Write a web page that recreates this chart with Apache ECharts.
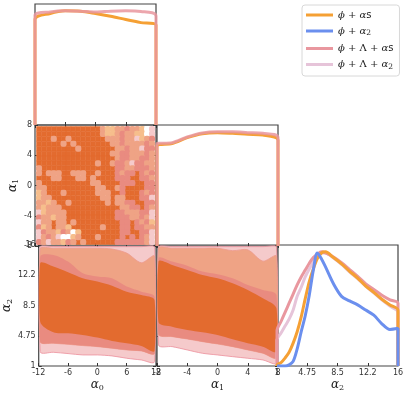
<!DOCTYPE html>
<html>
<head>
<meta charset="utf-8">
<script src="https://cdn.jsdelivr.net/npm/echarts@6/dist/echarts.min.js"></script>
<style>
  html, body { margin: 0; padding: 0; background: #fff; }
  #main { width: 407px; height: 395px; }
</style>
</head>
<body>
<div id="main"></div>
<script>
// model names (legend order) and their line colours
var seriesNames = ['phi+as', 'phi+a2', 'phi+L+as', 'phi+L+a2'];
var legendTexts = ['{i|ϕ} + {i|α}{r|s}', '{i|ϕ} + {i|α}{b|2}', '{i|ϕ} + Λ + {i|α}{r|s}', '{i|ϕ} + Λ + {i|α}{b|2}'];
var lineColors = ['#F5A034', '#6B8FEE', '#E9979F', '#E6C4D9'];

// tick labels
var a0Ticks = [-12, -6, 0, 6, 12];
var a0TickLabels = ['-12', '-6', '0', '6', '12'];
var a1Ticks = [-8, -4, 0, 4, 8];
var a1TickLabels = ['-8', '-4', '0', '4', '8'];
var a2Ticks = [1, 4.75, 8.5, 12.25, 16];
var a2TickLabels = ['1', '4.75', '8.5', '12.2', '16'];

// 1D marginals (normalised to peak 1)
var a0Grid = [-12, -9, -6, -3, 0, 3, 6, 9, 12];
var a0Orange = [0.924, 0.977, 1.0, 0.997, 0.977, 0.953, 0.924, 0.897, 0.874];
var a0Pink = [0.96, 0.99, 1.0, 0.997, 0.99, 0.997, 1.0, 0.995, 0.955];

var a1Grid = [-8, -6, -4, -2, 0, 2, 4, 6, 8];
var a1Orange = [0.877, 0.897, 0.949, 0.984, 0.993, 0.987, 0.978, 0.972, 0.926];
var a1Pink = [0.897, 0.905, 0.955, 0.99, 1.0, 1.0, 0.993, 0.987, 0.95];

var a2Grid = [1, 1.5, 2, 2.5, 3, 3.5, 4, 4.5, 5, 5.5, 6, 6.5, 7, 8, 9, 10, 11, 12, 13, 14, 15, 16];
var a2Orange = [0.01, 0.03, 0.07, 0.12, 0.2, 0.3, 0.43, 0.59, 0.74, 0.85, 0.94, 0.99, 1.0, 0.95, 0.895, 0.83, 0.77, 0.7, 0.645, 0.585, 0.535, 0.49];
var a2Blue = [0, 0, 0, 0.01, 0.04, 0.15, 0.3, 0.44, 0.62, 0.84, 0.99, 0.94, 0.87, 0.72, 0.61, 0.57, 0.535, 0.49, 0.445, 0.37, 0.32, 0.33];
var a2Pink = [0.31, 0.39, 0.47, 0.55, 0.63, 0.71, 0.78, 0.84, 0.9, 0.95, 0.98, 1.0, 0.99, 0.955, 0.905, 0.845, 0.785, 0.72, 0.67, 0.62, 0.58, 0.55];
var a2Lilac = [0.23, 0.29, 0.35, 0.41, 0.49, 0.61, 0.69, 0.78, 0.85, 0.91, 0.965, 0.99, 0.99, 0.945, 0.89, 0.825, 0.765, 0.7, 0.64, 0.58, 0.525, 0.47];

// alpha0 - alpha1 credible regions, one char per cell (top row = alpha1 high)
var levelKeys = 'Dksyp.';
var levelFills = ['#E36B2F', '#E98B80', '#EFA385', '#F6BE8C', '#F5CACB', '#FFFFFF'];
var a0a1Extent = [-11.7, 11.7, -7.8, 7.8];
var a0a1Levels = [
  'DDDDDDDDDDDDDsyysskssy.p',
  'DDDDDDDDDDDDDsyyskssyy.p',
  'DDDsDDsDDDDDDDsssksspysk',
  'DDDDDsDsDDDDDDDsskssssks',
  'DDDDDDDDsDDDDDDDssksspkk',
  'DDDDDDDDDDDDDDDsskksssks',
  'DDDDDDDDDDDDDDDDskksskks',
  'DDDDDDDDDDDDsDDskkspkkss',
  'sDDDDDDDDDDDDDDDkksskkks',
  'sDsssDDsssDDsDDDkskkDksk',
  'DDDssDDDssDsDDDDkkkDDkks',
  'sDDDDDDDDDDssDDDDkkkDDkk',
  'ssDDDDDDDDDDssDDskDDDDkk',
  'ysDDDsDDDDDDsssDDkDDDksk',
  'yssDDDDDDDDDDssDssDDDkkp',
  'ssysDDsDDDDDDDsDsskkDDkk',
  'sysssDDDDDDDDDDDDsskkDks',
  'pyssssDDDDDDDDDDkkssskkp',
  'kssyssDDDDDDDDDDkkkssksp',
  'pssDssDsDDDDDDDDDkkDksky',
  'kysDssyDDDDDDsDDDkkDkkss',
  'pkssyks.yDDDDDDDDkkDDkkp',
  'psksp..ysDDDsDDDDkDkDksp',
  'kspssyksDsDDDDDDkkkkkksp'
];

// alpha0 - alpha2 contour boundaries (alpha2 values along alpha0)
var a0Contour = [-11.7, -9, -6, -3, 0, 3, 6, 9, 11.7];
var a0a2OuterLow = [2.78, 2.70, 2.54, 2.37, 2.37, 2.25, 1.96, 1.75, 1.55];
var a0a2Top = [15.8, 15.8, 15.8, 15.8, 15.8, 15.8, 15.8, 15.8, 15.8];
var a0a2SalmonTop = [15.5, 15.6, 15.6, 15.6, 15.6, 15.5, 15.0, 13.8, 14.6];
var a0a2MidLow = [4.02, 3.82, 3.69, 3.53, 3.40, 3.20, 2.99, 2.87, 2.58];
var a0a2MidTop = [14.55, 14.76, 13.94, 12.49, 12.08, 11.87, 10.84, 10.22, 9.60];
var a0a2CoreLow = [6.50, 5.18, 5.06, 4.85, 4.52, 4.11, 3.82, 3.49, 2.87];
var a0a2CoreTop = [13.73, 13.32, 12.61, 11.87, 11.46, 10.96, 10.22, 9.81, 9.19];

// alpha1 - alpha2 contour boundaries (alpha2 values along alpha1)
var a1Contour = [-7.8, -6, -4, -2, 0, 2, 4, 6, 7.8];
var a1a2OuterLow = [3.61, 3.40, 2.99, 2.58, 2.37, 2.16, 1.96, 1.75, 1.34];
var a1a2Top = [15.8, 15.8, 15.8, 15.8, 15.8, 15.8, 15.8, 15.8, 15.8];
var a1a2SalmonTop = [15.6, 15.6, 15.6, 15.6, 15.6, 15.3, 15.4, 14.0, 14.6];
var a1a2MidLow = [4.93, 4.64, 4.35, 4.02, 3.73, 3.40, 2.99, 2.58, 2.04];
var a1a2MidTop = [14.35, 13.94, 13.44, 12.70, 12.37, 11.87, 11.04, 10.42, 9.80];
var a1a2CoreLow = [6.42, 5.88, 5.47, 5.18, 4.85, 4.31, 3.82, 3.40, 2.78];
var a1a2CoreTop = [13.94, 13.52, 12.90, 12.28, 11.87, 11.25, 10.42, 9.39, 8.15];

var chart = echarts.init(document.getElementById('main'));

var axisDefs = {
  a0: { min: -12, max: 12, interval: 6, ticks: a0Ticks, labels: a0TickLabels, name: '{a|α}{s|0}' },
  a1: { min: -8, max: 8, interval: 4, ticks: a1Ticks, labels: a1TickLabels, name: '{a|α}{s|1}' },
  a2: { min: 1, max: 16, interval: 3.75, ticks: a2Ticks, labels: a2TickLabels, name: '{a|α}{s|2}' }
};
var nameRich = {
  a: { fontFamily: 'DejaVu Serif', fontStyle: 'italic', fontSize: 12, color: '#222' },
  s: { fontFamily: 'DejaVu Serif', fontSize: 8, color: '#222', padding: [6, 0, 0, 0] }
};

// panel layout: [left, top], all 121px square
var boxes = [[35, 4], [35, 125], [35, 245], [157, 125], [157, 245], [277, 245]];
var panels = [
  { x: 'a0', y: null, xLab: false },
  { x: 'a0', y: 'a1', xLab: false, yLab: true },
  { x: 'a0', y: 'a2', xLab: true, yLab: true },
  { x: 'a1', y: null, xLab: false },
  { x: 'a1', y: 'a2', xLab: true, yLab: false },
  { x: 'a2', y: null, xLab: true }
];

function tickFormatter(def) {
  return function (v) {
    for (var i = 0; i < def.ticks.length; i++) {
      if (Math.abs(def.ticks[i] - v) < 1e-6) return def.labels[i];
    }
    return '';
  };
}

function valueAxis(key, gi, pos, showTicks, showLabels, showName, isY) {
  var def = axisDefs[key];
  return {
    type: 'value', gridIndex: gi, position: pos,
    min: def.min, max: def.max, interval: def.interval,
    axisLine: { show: false, onZero: false },
    splitLine: { show: false },
    axisTick: { show: showTicks, inside: true, length: 3, lineStyle: { color: '#333', width: 1 } },
    axisLabel: {
      show: showLabels, fontSize: 8, color: '#333', margin: 3, fontFamily: 'DejaVu Sans',
      showMinLabel: true, showMaxLabel: true, hideOverlap: false,
      formatter: tickFormatter(def)
    },
    name: showName ? def.name : '',
    nameLocation: 'middle',
    nameGap: isY ? 13 : 12,
    nameTextStyle: { rich: nameRich }
  };
}

function densityAxis(gi, pos) {
  return { type: 'value', gridIndex: gi, position: pos, min: 0, max: 1.06, show: false, axisLine: { onZero: false } };
}

var grids = [], xAxes = [], yAxes = [];
panels.forEach(function (p, gi) {
  grids.push({
    left: boxes[gi][0], top: boxes[gi][1], width: 121, height: 121,
    show: true, borderColor: '#444', borderWidth: 1.2, backgroundColor: 'transparent'
  });
  xAxes.push(valueAxis(p.x, gi, 'bottom', true, p.xLab, p.xLab, false));
  if (p.y) {
    xAxes.push(valueAxis(p.x, gi, 'top', true, false, false, false));
    yAxes.push(valueAxis(p.y, gi, 'left', true, !!p.yLab, !!p.yLab, true));
    yAxes.push(valueAxis(p.y, gi, 'right', true, false, false, true));
  } else {
    xAxes.push(Object.assign(valueAxis(p.x, gi, 'top', false, false, false, false), { show: false }));
    yAxes.push(densityAxis(gi, 'left'));
    yAxes.push(densityAxis(gi, 'right'));
  }
});

function curve(xs, ys) {
  var d = [[xs[0], 0]];
  xs.forEach(function (x, i) { d.push([x, ys[i]]); });
  d.push([xs[xs.length - 1], 0]);
  return d;
}

function lineSeries(gi, nameIdx, xs, ys, opacity) {
  return {
    type: 'line', name: seriesNames[nameIdx], xAxisIndex: 2 * gi, yAxisIndex: 2 * gi,
    data: curve(xs, ys), smooth: 0.3, showSymbol: false, symbol: 'none', z: 3,
    color: lineColors[nameIdx],
    lineStyle: { color: lineColors[nameIdx], width: 3, opacity: opacity || 1 }
  };
}

function contourSeries(gi, xs, layers) {
  return {
    type: 'custom', xAxisIndex: 2 * gi, yAxisIndex: 2 * gi, clip: true, silent: true, z: 1,
    data: layers.map(function (l, i) { return [xs[0], l.lo[0], i]; }),
    renderItem: function (params, api) {
      var l = layers[params.dataIndex];
      var cs = params.coordSys;
      var pts = [];
      xs.forEach(function (x, i) { pts.push(api.coord([x, l.hi[i]])); });
      for (var i = xs.length - 1; i >= 0; i--) pts.push(api.coord([xs[i], l.lo[i]]));
      return {
        type: 'polygon',
        shape: {
          points: pts, smooth: 0.3,
          smoothConstraint: [[cs.x, cs.y], [cs.x + cs.width, cs.y + cs.height]]
        },
        style: { fill: l.fill, stroke: l.stroke || null, lineWidth: l.stroke ? 0.8 : 0 }
      };
    }
  };
}

// cells of the alpha0-alpha1 panel; dark cells first, lighter patches drawn over them
var cellW = (a0a1Extent[1] - a0a1Extent[0]) / a0a1Levels[0].length;
var cellH = (a0a1Extent[3] - a0a1Extent[2]) / a0a1Levels.length;
var a0a1Cells = [];
a0a1Levels.forEach(function (row, r) {
  row.split('').forEach(function (ch, c) {
    a0a1Cells.push([a0a1Extent[0] + (c + 0.5) * cellW, a0a1Extent[3] - (r + 0.5) * cellH, levelKeys.indexOf(ch)]);
  });
});
a0a1Cells.sort(function (a, b) { return (a[2] === 0 ? 0 : 1) - (b[2] === 0 ? 0 : 1); });

var cellSeries = {
  type: 'custom', xAxisIndex: 2, yAxisIndex: 2, silent: true, z: 1,
  data: a0a1Cells,
  renderItem: function (params, api) {
    var x = api.value(0), y = api.value(1), k = api.value(2);
    var p0 = api.coord([x - cellW / 2, y + cellH / 2]);
    var p1 = api.coord([x + cellW / 2, y - cellH / 2]);
    var grow = k === 0 ? 0 : 0.6;
    return {
      type: 'rect',
      shape: {
        x: p0[0] - grow, y: p0[1] - grow,
        width: p1[0] - p0[0] + 2 * grow, height: p1[1] - p0[1] + 2 * grow,
        r: k === 0 ? 0 : 2.2
      },
      style: { fill: levelFills[k], stroke: k === 0 ? levelFills[k] : null, lineWidth: 0.5 }
    };
  }
};

function bandSet(outerLow, top, salmonTop, midLow, midTop, coreLow, coreTop) {
  return [
    { lo: outerLow, hi: top, fill: levelFills[4], stroke: '#EC8F9C' },
    { lo: midLow, hi: salmonTop, fill: levelFills[2], stroke: '#EE9A8E' },
    { lo: midLow, hi: midTop, fill: levelFills[1] },
    { lo: coreLow, hi: coreTop, fill: levelFills[0] }
  ];
}

var series = [
  cellSeries,
  contourSeries(2, a0Contour, bandSet(a0a2OuterLow, a0a2Top, a0a2SalmonTop, a0a2MidLow, a0a2MidTop, a0a2CoreLow, a0a2CoreTop)),
  contourSeries(4, a1Contour, bandSet(a1a2OuterLow, a1a2Top, a1a2SalmonTop, a1a2MidLow, a1a2MidTop, a1a2CoreLow, a1a2CoreTop)),
  lineSeries(0, 0, a0Grid, a0Orange),
  lineSeries(0, 2, a0Grid, a0Pink, 0.85),
  lineSeries(3, 0, a1Grid, a1Orange),
  lineSeries(3, 2, a1Grid, a1Pink, 0.85),
  lineSeries(5, 3, a2Grid, a2Lilac),
  lineSeries(5, 2, a2Grid, a2Pink),
  lineSeries(5, 0, a2Grid, a2Orange),
  lineSeries(5, 1, a2Grid, a2Blue)
];

chart.setOption({
  animation: false,
  grid: grids,
  xAxis: xAxes,
  yAxis: yAxes,
  legend: {
    orient: 'vertical', left: 302, top: 5,
    padding: [5, 6, 5, 4], itemGap: 6, itemWidth: 27, itemHeight: 3, icon: 'rect',
    selectedMode: false,
    backgroundColor: '#fff', borderColor: '#d8d8d8', borderWidth: 1, borderRadius: 3,
    data: seriesNames,
    formatter: function (n) { return legendTexts[seriesNames.indexOf(n)]; },
    textStyle: {
      fontFamily: 'DejaVu Serif', fontSize: 10, color: '#222',
      rich: {
        i: { fontFamily: 'DejaVu Serif', fontStyle: 'italic', fontSize: 10, color: '#222' },
        r: { fontFamily: 'DejaVu Sans', fontSize: 10, color: '#222' },
        b: { fontFamily: 'DejaVu Serif', fontSize: 7.5, color: '#222', padding: [5, 0, 0, 0] }
      }
    }
  },
  series: series
});
</script>
</body>
</html>
